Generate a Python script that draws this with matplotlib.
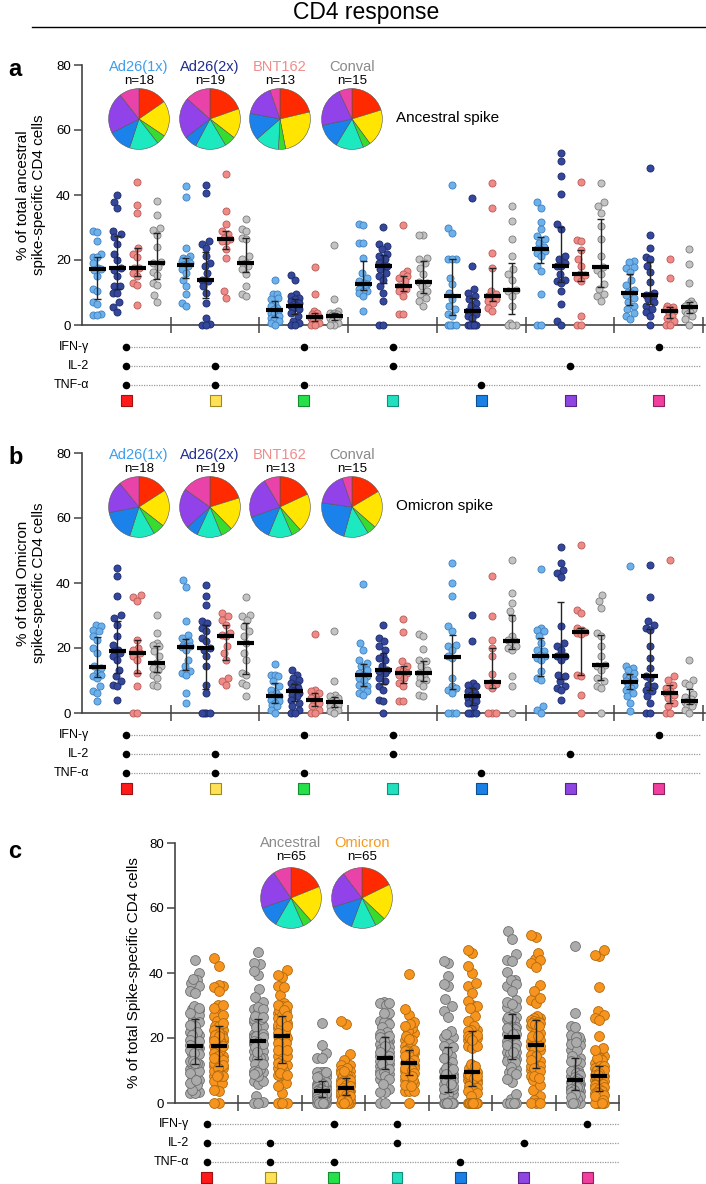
import numpy as np
import matplotlib
matplotlib.use('Agg')
import matplotlib.pyplot as plt
from matplotlib.lines import Line2D

plt.rcParams['font.family'] = ['Liberation Sans', 'DejaVu Sans']

# ---- data: % of spike-specific CD4 cells, one list per cytokine category ----
categories = ['IFN+IL2+TNF', 'IL2+TNF', 'IFN+TNF', 'IFN+IL2', 'TNF', 'IL2', 'IFN']
group_names = ['Ad26(1x)', 'Ad26(2x)', 'BNT162', 'Conval']

# ancestral spike (panel a)
anc_ad1x = [
    [29, 28.5, 26, 22, 21, 21, 19, 17.5, 17.2, 17, 15, 11, 10.5, 7, 6.5, 3.5, 3, 3],
    [42.8, 39.5, 23.8, 21.2, 20.7, 20.2, 19.7, 19, 18.7, 18.5, 18.2, 17.1, 16.1, 14, 12, 9.4, 6.9, 5.8],
    [14, 9.4, 9.4, 8.4, 7.9, 6.4, 5.8, 5.3, 4.8, 4.3, 3.8, 3.3, 2.8, 2.3, 1.8, 1.2, 0.7, 0],
    [31.2, 30.7, 25.3, 25.3, 20.7, 16.1, 14.6, 13.5, 13, 12.5, 12, 11.5, 11, 10.5, 10.5, 9.9, 8.9, 4.3],
    [43, 30, 28.4, 20.4, 20.4, 20.2, 14.6, 12.5, 9.9, 7.9, 5.8, 4.8, 3.3, 2.8, 0, 0, 0, 0],
    [37.8, 36.1, 31.7, 29.4, 27.4, 26.4, 25.3, 24.1, 23.5, 23.3, 22.8, 22.3, 21.2, 18.2, 16.6, 9.4, 0, 0],
    [19.7, 19.5, 17.9, 17.4, 16.4, 13.8, 12.3, 10.8, 10.3, 9.7, 9.2, 8.2, 7.2, 5.9, 4.9, 3.8, 2.8, 2],
]
anc_ad2x = [
    [40, 38, 36, 29, 28, 27, 25, 22, 20, 17.4, 17, 15, 12, 12, 10, 10, 7, 5.5, 4],
    [43, 40.7, 25.8, 24.8, 23.8, 21.2, 19.2, 18.2, 16.1, 14, 14, 13.5, 12, 10, 6.9, 2.3, 0.2, 0, 0],
    [15.3, 13.8, 9.4, 8.9, 8.4, 7.9, 7.4, 6.9, 6.4, 5.8, 5.8, 5.3, 4.8, 3.8, 2.8, 1.2, 0.7, 0, 0],
    [30.3, 24.8, 24.3, 23.3, 21.7, 21.2, 20.2, 19.2, 18.2, 18.2, 17.1, 16.1, 15.1, 14, 12, 10, 7.4, 0, 0],
    [39, 18.2, 11, 9.9, 8.9, 7.9, 6.9, 5.8, 4.8, 4.3, 3.8, 3.3, 2.8, 2.3, 0, 0, 0, 0, 0],
    [53, 50.5, 45.8, 40.2, 31, 29.4, 21.2, 20.2, 19.2, 18.2, 18.2, 15.6, 14, 13.5, 13, 10.5, 6.4, 1.2, 0],
    [48.3, 27.7, 23.6, 20.9, 20.4, 18.3, 16.3, 13.2, 10, 9.3, 9.1, 8.5, 8, 7, 6, 4.9, 3.9, 2.8, 0],
]
anc_bnt = [
    [44, 37, 34.4, 23.6, 22, 21, 17.4, 17.4, 16, 15, 12.8, 12.3, 6.2],
    [46.4, 35, 31, 29, 27.9, 26.9, 26.4, 25.8, 25.8, 23.3, 20.7, 10.5, 8.4],
    [17.8, 9.6, 4.3, 3.8, 3.3, 2.8, 2.6, 2.3, 1.7, 1.2, 0.7, 0, 0],
    [30.8, 16.6, 15.6, 15.1, 14.6, 13.5, 12, 11.5, 11, 10.5, 8.9, 3.3, 3.3],
    [43.6, 35.9, 22.3, 17.6, 10.5, 9.4, 8.9, 8.4, 7.9, 7.4, 6.9, 5.3, 4.3],
    [44.1, 26.1, 25.7, 23, 20.2, 18.2, 15.6, 15.3, 14.5, 13.5, 2.8, 0, 0],
    [20.3, 14.4, 5.9, 5.4, 4.9, 4.8, 4.4, 3.3, 2.8, 2.3, 1.3, 0, 0],
]
anc_conv = [
    [38.3, 33.8, 29.7, 29.2, 27.7, 24, 19.5, 19, 18, 16.4, 15.4, 12.8, 12.3, 9.2, 7.2],
    [32.5, 29.4, 28.9, 26.9, 26.4, 21.2, 20.2, 19.2, 18.7, 18.2, 17.1, 15.6, 12, 9.4, 8.9],
    [24.6, 7.9, 4.3, 3.8, 3.6, 3.3, 3, 2.8, 2.6, 2.3, 1.7, 1.2, 0.7, 0, 0],
    [27.6, 27.6, 20.7, 20.2, 19.2, 17.6, 15.6, 13.2, 13, 12, 10.5, 9.4, 8.4, 7.4, 5.8],
    [36.6, 32, 26.4, 21.2, 17.1, 15.6, 14, 10.7, 10.5, 8.9, 5.8, 0.7, 0, 0, 0],
    [43.6, 37.7, 36.6, 34.6, 30.5, 26.4, 21.2, 18, 17, 15.6, 12.5, 11, 9.4, 8.9, 7.4],
    [23.3, 18.7, 12.8, 7.4, 6.9, 6.4, 5.9, 5.4, 4.9, 4.4, 3.9, 3.3, 2.8, 1.8, 0],
]

# omicron spike (panel b)
omi_ad1x = [
    [27.2, 26.7, 25.6, 25.1, 23.6, 22.6, 20, 18.5, 14.5, 13.8, 12.3, 11.8, 11.3, 10.8, 8.2, 6.7, 6.2, 3.6],
    [40.8, 38.8, 28.2, 24.1, 23.1, 22.1, 21, 20.7, 20.5, 20.3, 19.5, 16.4, 14.4, 12.8, 12.3, 11.8, 6.2, 3.1],
    [15.2, 11.8, 11.8, 11.3, 9.7, 8.2, 7.2, 6.2, 5.6, 5.1, 4.6, 4.1, 3.6, 3.1, 2.6, 2.1, 1, 0],
    [39.8, 21.5, 19.5, 16.4, 15.4, 14.4, 13.3, 12.3, 11.8, 11.3, 10.8, 10.3, 8.7, 8.2, 7.2, 6.7, 6.2, 5.6],
    [46.2, 40, 35.9, 26.9, 25.1, 21, 20.5, 19.5, 17.4, 17, 10.8, 8.2, 7.7, 7.2, 6.2, 0, 0, 0],
    [44.3, 26.2, 25.6, 25.1, 23.6, 21.5, 19.5, 19, 17.9, 17.4, 16.9, 16.4, 12.8, 10.8, 10.3, 2.1, 1, 0],
    [45.3, 14.4, 13.8, 13.3, 12.3, 11.3, 10.8, 10.3, 9.7, 9.2, 8.7, 8.2, 7.7, 7.2, 6.2, 5.1, 3.1, 0.5],
]
omi_ad2x = [
    [44.6, 42.3, 35.9, 30.3, 29.2, 27.2, 23.6, 21, 19.5, 19, 18.5, 17.4, 16.4, 13.3, 11.3, 9.7, 8.7, 8.2, 4.1],
    [39.5, 35.9, 33.3, 28.2, 27.7, 26.2, 25.1, 23.1, 22.1, 20, 19.5, 17.4, 14.4, 8.7, 6.2, 0, 0, 0, 0],
    [13.3, 11.8, 10.8, 10.3, 9.2, 8.7, 8.2, 7.7, 7.2, 6.7, 6.2, 5.6, 5.1, 4.1, 3.1, 2.1, 1, 0, 0],
    [27.2, 23.1, 22.1, 20.5, 19.5, 17.4, 16.9, 16.4, 14.4, 13.3, 12.8, 12.3, 10.8, 9.7, 8.2, 7.2, 4.1, 3.6, 0],
    [30.3, 22.1, 9.2, 8.7, 8.2, 7.2, 6.7, 6.2, 5.6, 5.1, 4.6, 4.1, 3.6, 3.1, 2.1, 0, 0, 0, 0],
    [51, 46.2, 44.1, 43.1, 41.8, 26.7, 21.5, 20.5, 19.5, 17.6, 17.4, 16.4, 11.8, 11.3, 9.7, 8.2, 7.7, 7.2, 4.1],
    [45.6, 35.7, 28.2, 27.2, 26.2, 25.6, 20.5, 16.9, 13.8, 11.3, 10.8, 8.7, 8.2, 7.2, 6.7, 5.1, 3.1, 0, 0],
]
omi_bnt = [
    [36.4, 35.7, 34.6, 22.6, 20, 19.5, 18.5, 17.4, 16.4, 12.3, 8.2, 0, 0],
    [30.8, 29.7, 28.7, 27.2, 24.6, 24.1, 23.6, 20.5, 18.5, 16.4, 10.8, 9.7, 8.7],
    [24.4, 7.2, 6.7, 6.2, 5.1, 4.6, 4.1, 3.6, 3.1, 2.1, 1, 0, 0],
    [29, 24.8, 15.9, 14.4, 13.3, 12.8, 12.3, 11.8, 10.8, 9.2, 8.2, 3.6, 3.6],
    [42.3, 30, 22.6, 20, 17.4, 12, 9.4, 9, 8.5, 7.7, 0, 0, 0],
    [51.7, 31.8, 30.8, 26.2, 25.6, 25.1, 24.8, 24.6, 24.4, 11.8, 11.3, 5.6, 0],
    [47.2, 11.3, 10.3, 8.7, 7.7, 6.7, 6.2, 5.6, 4.6, 3.1, 2.1, 0, 0],
]
omi_conv = [
    [30.3, 24.6, 21.5, 21, 20.5, 19, 17.4, 15.4, 14.4, 13.8, 13.3, 11.8, 10.8, 8.7, 8.2],
    [35.7, 30.3, 29.7, 28.7, 26.7, 25.1, 23.6, 21.5, 18.5, 16.4, 12.3, 11.8, 9.2, 8.7, 5.1],
    [25.1, 9.7, 5.6, 5.1, 4.6, 4.1, 3.6, 3.3, 3.1, 2.6, 2.1, 1.5, 1, 0.5, 0],
    [24.4, 23.8, 19.7, 16.4, 15.9, 14.4, 13.3, 12.3, 11.3, 10.8, 10.3, 9.2, 8.2, 5.6, 5.1],
    [47.2, 36.9, 33.8, 31.3, 29.2, 23.6, 22.6, 22.1, 21, 20.5, 20, 19.5, 11.3, 8.2, 0],
    [36.4, 34.4, 32.3, 24.6, 23.6, 20.5, 17.4, 14.9, 14.4, 13.3, 10.8, 9.7, 8.2, 7.7, 0],
    [16.2, 10.3, 9.2, 8.7, 6, 5, 4.2, 3.6, 3.4, 3.2, 3, 2.5, 2.1, 1, 0],
]

# boolean gating table
cytokines = ['IFN-γ', 'IL-2', 'TNF-α']
ifn_pos = [1, 0, 1, 1, 0, 0, 1]
il2_pos = [1, 1, 0, 1, 0, 1, 0]
tnf_pos = [1, 1, 1, 0, 1, 0, 0]

# ---- styles ----
grp_fill = ['#6DB1EA', '#34479B', '#EF8B87', '#C3C3C3']
grp_edge = ['#3F7FC0', '#1C2A6B', '#B85A57', '#7D7D7D']
grp_text = ['#3D9EEA', '#1F2E8E', '#F08C8C', '#8A8A8A']
c_fill = ['#ABABAB', '#F7941D']
c_edge = ['#6E6E6E', '#B06A10']
c_text = ['#8A8A8A', '#F59A1E']
pie_colors = ['#FF2A00', '#FFE500', '#36DD2E', '#1DE9C0', '#1A82EA', '#9142E8', '#E942A8']
sq_colors = ['#FF1A1A', '#FFE158', '#26E04A', '#22E0BE', '#1A80E6', '#8F45E2', '#F03F9E']
sq_edges = ['#A01010', '#A08A20', '#129030', '#109078', '#0E4F90', '#55258A', '#902060']

W, H = 706, 1184
fig = plt.figure(figsize=(W / 100, H / 100), dpi=100)


def rect(x0, y0, x1, y1):
    return [x0 / W, 1 - y1 / H, (x1 - x0) / W, (y1 - y0) / H]


def ftext(x, y, s, **kw):
    fig.text(x / W, 1 - y / H, s, **kw)


def swarm(vals, xc, xs, ys, d, maxw):
    # simple beeswarm in pixel space, limited width
    vals = np.asarray(vals, float)
    cands = sorted(np.linspace(-maxw, maxw, 17), key=abs)
    placed = []
    offs = np.zeros(len(vals))
    for i in np.argsort(vals):
        y = vals[i] * ys
        best, bestd, bestc = None, -1, 0
        for c in cands:
            md = min([np.hypot(c - px, y - py) for px, py in placed], default=1e9)
            if md >= d:
                best = c
                break
            if md > bestd:
                bestd, bestc = md, c
        if best is None:
            best = bestc
        offs[i] = best
        placed.append((best, y))
    return xc + offs / xs


def draw_dots(left, top, right, bottom, xmax, groups, offsets, fills, edges, s, d, maxw, med_hw, cap_hw):
    ax = fig.add_axes(rect(left, top, right, bottom))
    ax.set_xlim(0, xmax)
    ax.set_ylim(0, 80)
    xs = (right - left) / xmax
    ys = (bottom - top) / 80
    for k in range(7):
        for g, grp in enumerate(groups):
            vals = grp[k]
            xc = k + 0.5 + offsets[g]
            xp = swarm(vals, xc, xs, ys, d, maxw)
            ax.scatter(xp, vals, s=s, c=fills[g], edgecolors=edges[g], linewidths=0.6,
                       clip_on=False, zorder=3)
            q1, med, q3 = np.percentile(vals, [25, 50, 75])
            ax.vlines(xc, q1, q3, color='#222222', lw=1, zorder=4)
            ax.hlines([q1, q3], xc - cap_hw / xs, xc + cap_hw / xs, color='#222222', lw=1, zorder=4)
            ax.hlines(med, xc - med_hw / xs, xc + med_hw / xs, color='black', lw=3, zorder=5)
    for sp in ['top', 'right']:
        ax.spines[sp].set_visible(False)
    for sp in ['left', 'bottom']:
        ax.spines[sp].set_color('#444444')
        ax.spines[sp].set_linewidth(1.2)
    ax.set_yticks([0, 20, 40, 60, 80])
    ax.tick_params(axis='y', length=6, width=1.1, color='#444444', labelsize=9.5, pad=2)
    ax.set_xticks(range(1, 8))
    ax.set_xticklabels([])
    ax.tick_params(axis='x', direction='inout', length=12, width=1.1, color='#444444')
    return ax


def draw_table(left, right, xmax, row0, label_right, line_end):
    step = 19
    tax = fig.add_axes(rect(left, row0 - 0.6 * step, right, row0 + 3.6 * step))
    tax.set_xlim(0, xmax)
    tax.set_ylim(3.6, -0.6)
    tax.axis('off')
    for r, pos in enumerate([ifn_pos, il2_pos, tnf_pos]):
        tax.hlines(r, 0.5, line_end, color='#9A9A9A', lw=0.9, linestyle=(0, (1, 1)), zorder=1)
        xk = [k + 0.5 for k in range(7) if pos[k]]
        tax.scatter(xk, [r] * len(xk), s=20, c='black', zorder=3)
        ftext(label_right, row0 + r * step, cytokines[r], ha='right', va='center', fontsize=9)
    tax.scatter(np.arange(7) + 0.5, [2.8] * 7, marker='s', s=62, c=sq_colors,
                edgecolors=sq_edges, linewidths=0.8, clip_on=False, zorder=3)


def draw_pie(cx, cy, r, fracs):
    axp = fig.add_axes(rect(cx - r, cy - r, cx + r, cy + r))
    axp.pie(fracs, colors=pie_colors, startangle=90, counterclock=False,
            wedgeprops=dict(edgecolor='#555555', linewidth=0.4))
    axp.set_xlim(-1.02, 1.02)
    axp.set_ylim(-1.02, 1.02)
    axp.set_aspect('equal')


# ---- title ----
ftext(366, 13, 'CD4 response', ha='center', va='center', fontsize=16.5)
fig.add_artist(Line2D([32 / W, 1.0], [1 - 27 / H, 1 - 27 / H], color='black', lw=1))

# ---- panels a and b ----
offs4 = [-0.33, -0.105, 0.12, 0.345]
pie_x = [139, 210, 280, 352]
for dy, letter, groups, label, spike in [
        (0, 'a', [anc_ad1x, anc_ad2x, anc_bnt, anc_conv], '% of total ancestral\nspike-specific CD4 cells', 'Ancestral spike'),
        (388, 'b', [omi_ad1x, omi_ad2x, omi_bnt, omi_conv], '% of total Omicron\nspike-specific CD4 cells', 'Omicron spike')]:
    draw_dots(82, 65 + dy, 705, 325 + dy, 7.02, groups, offs4, grp_fill, grp_edge,
              s=26, d=7, maxw=4, med_hw=8.5, cap_hw=3.5)
    draw_table(82, 705, 7.02, 347 + dy, 89, 6.97)
    ftext(8, 70 + dy, letter, fontsize=17, fontweight='bold', va='center', ha='left')
    ftext(31, 195 + dy, label, rotation=90, ha='center', va='center', fontsize=11, linespacing=1.1)
    for g, grp in enumerate(groups):
        means = [np.mean(v) for v in grp]
        draw_pie(pie_x[g], 119 + dy, 31, means)
        ftext(pie_x[g], 67 + dy, group_names[g], ha='center', va='center', fontsize=10.5, color=grp_text[g])
        ftext(pie_x[g], 81 + dy, f'n={len(grp[0])}', ha='center', va='center', fontsize=9.5)
    ftext(396, 118 + dy, spike, ha='left', va='center', fontsize=11)

# ---- panel c: ancestral vs omicron, all groups pooled ----
ancestral = [sum((g[k] for g in [anc_ad1x, anc_ad2x, anc_bnt, anc_conv]), []) for k in range(7)]
omicron = [sum((g[k] for g in [omi_ad1x, omi_ad2x, omi_bnt, omi_conv]), []) for k in range(7)]
draw_dots(175, 843, 619, 1103, 7.0, [ancestral, omicron], [-0.19, 0.19], c_fill, c_edge,
          s=50, d=9, maxw=4.5, med_hw=8, cap_hw=4)
draw_table(175, 619, 7.0, 1124, 189, 7.0)
ftext(8, 852, 'c', fontsize=17, fontweight='bold', va='center', ha='left')
ftext(134, 973, '% of total Spike-specific CD4 cells', rotation=90, ha='center', va='center', fontsize=11)
for g, (grp, name) in enumerate(zip([ancestral, omicron], ['Ancestral', 'Omicron'])):
    cx = [291, 362][g]
    draw_pie(cx, 898, 31, [np.mean(v) for v in grp])
    ftext(cx, 843, name, ha='center', va='center', fontsize=10.5, color=c_text[g])
    ftext(cx, 857, f'n={len(grp[0])}', ha='center', va='center', fontsize=9.5)

fig.savefig('out.png', dpi=100)
